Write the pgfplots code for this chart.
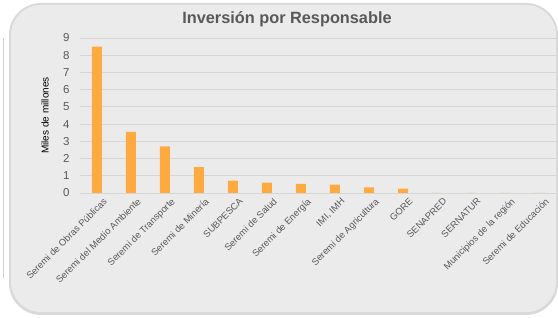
\documentclass[border=0pt]{standalone}
\usepackage{pgfplots}
\pgfplotsset{compat=1.18}
\usepackage{fontspec}
\setmainfont{Liberation Sans}
\definecolor{barc}{RGB}{255,170,64}
\definecolor{txt}{RGB}{89,89,89}
\definecolor{bg}{RGB}{235,235,235}
\definecolor{gridc}{RGB}{214,214,214}
\begin{document}
\begin{tikzpicture}
\useasboundingbox (0pt,0pt) rectangle (558pt,318pt);
\fill[white] (0pt,0pt) rectangle (558pt,318pt);
\draw[gray!35, line width=1pt] (3pt,40pt) -- (3pt,280pt);
\fill[gray!30, rounded corners=32pt] (9pt,3pt) rectangle (558pt,315pt);
\fill[bg, rounded corners=30pt] (11pt,6pt) rectangle (556pt,313pt);
\node[font=\bfseries\fontsize{16.3}{18}\selectfont, text=txt] at (287pt,299pt) {Inversión por Responsable};
\begin{axis}[
  at={(80pt,125pt)}, anchor=south west,
  scale only axis, width=476pt, height=155pt,
  xmin=-0.5, xmax=13.5, ymin=0, ymax=9,
  ytick={0,1,...,9},
  xtick={0,1,...,13},
  xticklabels={Seremi de Obras Públicas,Seremi del Medio Ambiente,Seremi de Transporte,Seremi de Minería,SUBPESCA,Seremi de Salud,Seremi de Energía,{IMI, IMH},Seremi de Agricultura,GORE,SENAPRED,SERNATUR,Municipios de la región,Seremi de Educación},
  x tick label style={rotate=45, anchor=north east, font=\fontsize{9.4}{11}\selectfont, text=txt, inner sep=1pt, xshift=2pt, yshift=-6pt},
  y tick label style={font=\fontsize{11.5}{12}\selectfont, text=txt, xshift=-7pt},
  /pgf/number format/assume math mode=true,
  ymajorgrids, grid style={draw=gridc, line width=0.9pt},
  axis line style={draw=none},
  major tick length=0pt,
  ylabel={Miles de millones},
  ylabel style={font=\fontsize{9.8}{10}\selectfont, text=txt},
  every axis y label/.style={at={(axis description cs:-0.0735,0.5)}, rotate=90, anchor=center},
  clip=false,
]
\addplot[ybar, bar width=10pt, fill=barc, draw=none] coordinates {
(0,8.5) (1,3.55) (2,2.7) (3,1.5) (4,0.72) (5,0.6) (6,0.53) (7,0.48) (8,0.32) (9,0.26) (10,0) (11,0) (12,0) (13,0)};
\end{axis}
\end{tikzpicture}
\end{document}
